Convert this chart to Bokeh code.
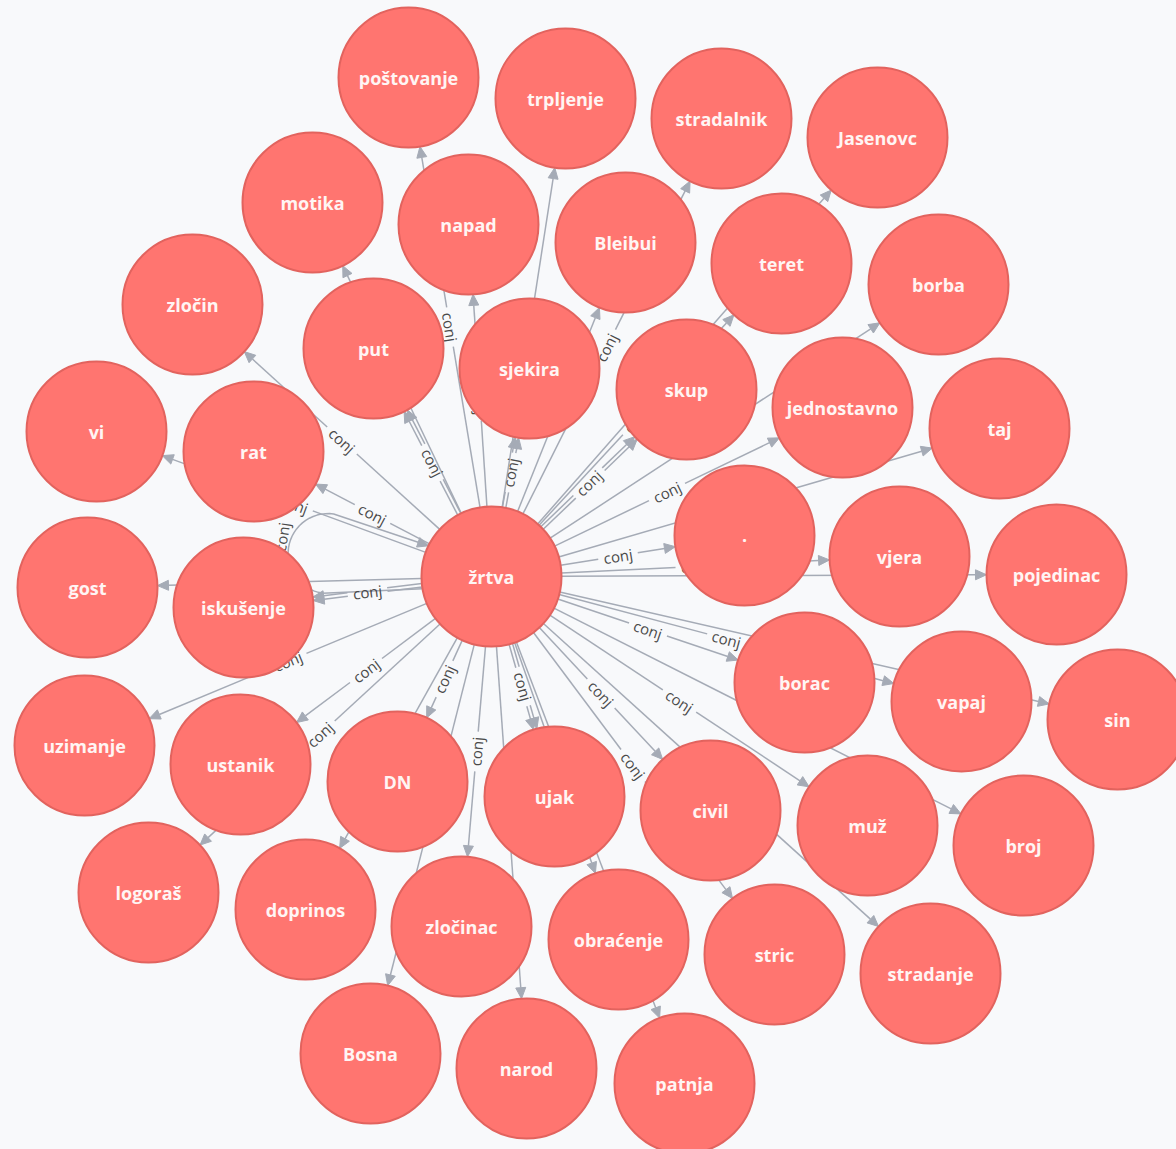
import math
from bokeh.plotting import figure
from bokeh.models import Range1d, ColumnDataSource
from bokeh.core.properties import value
from bokeh.embed import file_html
from bokeh.resources import INLINE

# ---------------- data ----------------
center = "žrtva"
rel_type = "conj"
targets = ["poštovanje", "trpljenje", "stradalnik", "Jasenovc", "motika", "napad",
           "Bleibui", "teret", "borba", "zločin", "put", "sjekira", "skup",
           "jednostavno", "taj", "vi", "rat", ".", "vjera", "pojedinac", "gost",
           "iskušenje", "uzimanje", "ustanik", "DN", "ujak", "civil", "borac",
           "vapaj", "sin", "muž", "broj", "logoraš", "doprinos", "zločinac",
           "obraćenje", "stric", "stradanje", "Bosna", "narod", "patnja"]
rel_counts = [1, 1, 1, 1, 1, 1,
              1, 1, 1, 1, 2, 2, 2,
              1, 1, 1, 1, 1, 1, 1, 1,
              2, 1, 1, 1, 2, 1, 1,
              1, 1, 1, 1, 1, 1, 1,
              1, 1, 1, 1, 1, 1]
self_loop_count = 1

# force-layout positions (screen pixels of the graph view)
layout = {
    "žrtva": (491, 576),
    "poštovanje": (408, 77), "trpljenje": (565, 98), "stradalnik": (721, 118),
    "Jasenovc": (877, 137), "motika": (312, 202), "napad": (468, 224),
    "Bleibui": (625, 242), "teret": (781, 263), "borba": (938, 284),
    "zločin": (192, 304), "put": (373, 348), "sjekira": (529, 368),
    "skup": (686, 389), "jednostavno": (842, 407), "taj": (999, 428),
    "vi": (96, 431), "rat": (253, 451), ".": (744, 535), "vjera": (899, 556),
    "pojedinac": (1056, 574), "gost": (87, 587), "iskušenje": (243, 607),
    "uzimanje": (84, 745), "ustanik": (240, 764), "DN": (397, 781),
    "ujak": (554, 796), "civil": (710, 810), "borac": (804, 682),
    "vapaj": (961, 701), "sin": (1117, 719), "muž": (867, 825),
    "broj": (1023, 845), "logoraš": (148, 892), "doprinos": (305, 909),
    "zločinac": (461, 926), "obraćenje": (618, 939), "stric": (774, 954),
    "stradanje": (930, 973), "Bosna": (370, 1053), "narod": (526, 1068),
    "patnja": (684, 1083),
}

# ---------------- style ----------------
R = 70
BG = "#F8F9FB"
NODE_FILL = "#FF7570"
NODE_LINE = "#E2635E"
EDGE = "#A5ABB6"
ARROW_LEN = 11
ARROW_HW = 5
GAP = 20

p = figure(width=1176, height=1149, x_range=Range1d(0, 1176), y_range=Range1d(1149, 0),
           output_backend="svg", toolbar_location=None, min_border=0)
p.axis.visible = False
p.grid.visible = False
p.outline_line_color = None
p.background_fill_color = BG
p.border_fill_color = BG

cx, cy = layout[center]

seg = dict(x0=[], y0=[], x1=[], y1=[])
heads = dict(xs=[], ys=[])
labs = dict(x=[], y=[], a=[], t=[])

for name, n in zip(targets, rel_counts):
    tx, ty = layout[name]
    dx, dy = tx - cx, ty - cy
    L = math.hypot(dx, dy)
    ux, uy = dx / L, dy / L
    px, py = -uy, ux
    th = math.degrees(math.atan2(dy, dx))
    if th > 90:
        th -= 180
    elif th < -90:
        th += 180
    for k in range(n):
        off = (k - (n - 1) / 2) * 3.5
        ox, oy = px * off, py * off
        sx, sy = cx + ux * R + ox, cy + uy * R + oy
        ex, ey = tx - ux * R + ox, ty - uy * R + oy
        mx, my = (sx + ex) / 2, (sy + ey) / 2
        bx, by = ex - ux * ARROW_LEN, ey - uy * ARROW_LEN
        for a, b in (((sx, sy), (mx - ux * GAP, my - uy * GAP)),
                     ((mx + ux * GAP, my + uy * GAP), (bx, by))):
            seg["x0"].append(a[0]); seg["y0"].append(a[1])
            seg["x1"].append(b[0]); seg["y1"].append(b[1])
        heads["xs"].append([ex, bx + px * ARROW_HW, bx - px * ARROW_HW])
        heads["ys"].append([ey, by + py * ARROW_HW, by - py * ARROW_HW])
        if k == 0:
            lmx = (cx + tx) / 2
            lmy = (cy + ty) / 2
            labs["x"].append(lmx); labs["y"].append(lmy)
            labs["a"].append(-th); labs["t"].append(rel_type)

# self loop on centre node
phi = math.radians(188)
U = (math.cos(phi), math.sin(phi))
V = (-math.sin(phi), math.cos(phi))


def tr(u, v):
    return cx + u * U[0] + v * V[0], cy + u * U[1] + v * V[1]


delta = math.radians(18)
loc = [(R * math.cos(delta), -R * math.sin(delta)), (165, -40)]
for i in range(0, 31):
    t = -math.pi / 2 + math.pi * i / 30
    loc.append((165 + 40 * math.cos(t), 40 * math.sin(t)))
tip = (R * math.cos(delta), R * math.sin(delta))
dirv = (tip[0] - 165, tip[1] - 40)
dl = math.hypot(*dirv)
dirv = (dirv[0] / dl, dirv[1] / dl)
base = (tip[0] - dirv[0] * ARROW_LEN, tip[1] - dirv[1] * ARROW_LEN)
loc.append(base)
loop_pts = [tr(u, v) for u, v in loc]
loop_x = [q[0] for q in loop_pts]
loop_y = [q[1] for q in loop_pts]
pv = (-dirv[1], dirv[0])
hpts = [tip, (base[0] + pv[0] * ARROW_HW, base[1] + pv[1] * ARROW_HW),
        (base[0] - pv[0] * ARROW_HW, base[1] - pv[1] * ARROW_HW)]
hpts = [tr(u, v) for u, v in hpts]
heads["xs"].append([q[0] for q in hpts])
heads["ys"].append([q[1] for q in hpts])
lx, ly = tr(213, 10)
vang = math.degrees(math.atan2(V[1], V[0]))
labs["x"].append(lx); labs["y"].append(ly); labs["a"].append(-vang); labs["t"].append(rel_type)

p.segment(x0="x0", y0="y0", x1="x1", y1="y1", source=ColumnDataSource(seg),
          line_color=EDGE, line_width=1.5)
p.line(loop_x, loop_y, line_color=EDGE, line_width=1.5)
p.patches(xs="xs", ys="ys", source=ColumnDataSource(heads), fill_color=EDGE,
          line_color=EDGE, line_width=1)
p.text(x="x", y="y", text="t", angle="a", angle_units="deg", source=ColumnDataSource(labs),
       text_font=value("Open Sans"), text_font_size="15px", text_color="#4a4a4a",
       text_align="center", text_baseline="middle")

names = [center] + targets
nodes = ColumnDataSource(dict(x=[layout[n][0] for n in names],
                              y=[layout[n][1] for n in names], name=names))
p.circle(x="x", y="y", radius=R, source=nodes, fill_color=NODE_FILL,
         line_color=NODE_LINE, line_width=2)
p.text(x="x", y="y", text="name", source=nodes, text_font=value("Open Sans"),
       text_font_size="18px", text_font_style="bold", text_color="#FFF5F4",
       text_align="center", text_baseline="middle")

template = """{% block postamble %}<style>html, body { background-color: #F8F9FB; }</style>{% endblock %}"""
html = file_html(p, INLINE, title="graph", template=template)
open("out.html", "w").write(html)
